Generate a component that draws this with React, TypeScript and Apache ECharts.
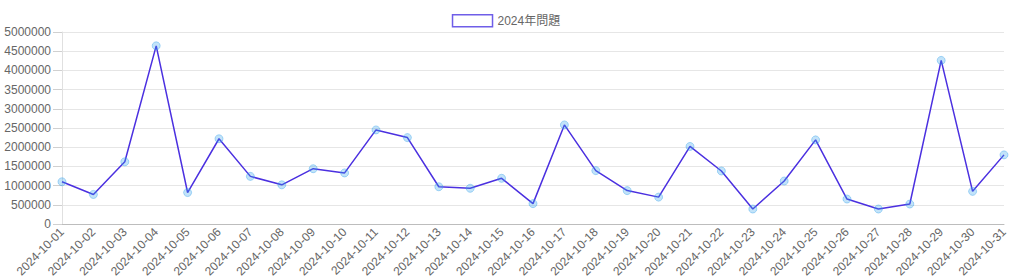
import React, { useEffect, useRef } from "react";
import * as echarts from "echarts";

const categories: string[] = [
  "2024-10-01", "2024-10-02", "2024-10-03", "2024-10-04", "2024-10-05", "2024-10-06",
  "2024-10-07", "2024-10-08", "2024-10-09", "2024-10-10", "2024-10-11", "2024-10-12",
  "2024-10-13", "2024-10-14", "2024-10-15", "2024-10-16", "2024-10-17", "2024-10-18",
  "2024-10-19", "2024-10-20", "2024-10-21", "2024-10-22", "2024-10-23", "2024-10-24",
  "2024-10-25", "2024-10-26", "2024-10-27", "2024-10-28", "2024-10-29", "2024-10-30",
  "2024-10-31",
];

const seriesName = "2024年問題";

const values: number[] = [
  1100000, 770000, 1620000, 4640000, 820000, 2220000,
  1240000, 1020000, 1440000, 1330000, 2450000, 2250000,
  970000, 930000, 1190000, 530000, 2580000, 1390000,
  870000, 700000, 2020000, 1380000, 390000, 1120000,
  2190000, 650000, 390000, 520000, 4260000, 850000,
  1800000,
];

const yMin = 0;
const yMax = 5000000;
const yInterval = 500000;

const FONT = "'Liberation Sans', 'Noto Sans CJK JP', Arial, sans-serif";

export default function App() {
  const ref = useRef<HTMLDivElement | null>(null);

  useEffect(() => {
    if (!ref.current) return;
    const chart = echarts.init(ref.current, undefined, { renderer: "svg" });
    chart.setOption({
      animation: false,
      textStyle: { fontFamily: FONT },
      legend: {
        top: 9,
        left: "center",
        icon: "rect",
        itemWidth: 40,
        itemHeight: 12,
        itemGap: 10,
        textStyle: { color: "#666", fontSize: 12, fontFamily: FONT },
        data: [
          {
            name: seriesName,
            itemStyle: { color: "#ffffff", borderColor: "#6f5ee8", borderWidth: 1.5 },
          },
        ],
      },
      grid: { left: 62, right: 8, top: 32, bottom: 56, containLabel: false },
      xAxis: {
        type: "category",
        data: categories,
        boundaryGap: false,
        axisLine: { show: true, lineStyle: { color: "#bdbdbd", width: 1 } },
        axisTick: { show: false },
        splitLine: { show: false },
        axisLabel: {
          rotate: 45,
          color: "#666",
          fontSize: 12,
          fontFamily: FONT,
          margin: 6,
          interval: 0,
        },
      },
      yAxis: {
        type: "value",
        min: yMin,
        max: yMax,
        interval: yInterval,
        axisLine: { show: true, lineStyle: { color: "#e0e0e0", width: 1 } },
        axisTick: { show: true, length: 9, lineStyle: { color: "#d0d0d0" } },
        splitLine: { show: true, lineStyle: { color: "#e6e6e6", width: 1 } },
        axisLabel: {
          color: "#666",
          fontSize: 12,
          fontFamily: FONT,
          margin: 11,
          formatter: (v: number) => String(v),
        },
      },
      series: [
        {
          name: seriesName,
          type: "line",
          data: values,
          symbol: "circle",
          symbolSize: 8,
          showSymbol: true,
          lineStyle: { color: "#4b30e0", width: 1.5 },
          itemStyle: {
            color: "rgba(54,162,235,0.3)",
            borderColor: "rgba(54,162,235,0.4)",
            borderWidth: 1,
          },
        },
      ],
    });
    return () => chart.dispose();
  }, []);

  return (
    <div
      ref={ref}
      style={{ position: "absolute", left: 0, top: 0, width: 1012, height: 280 }}
    />
  );
}
